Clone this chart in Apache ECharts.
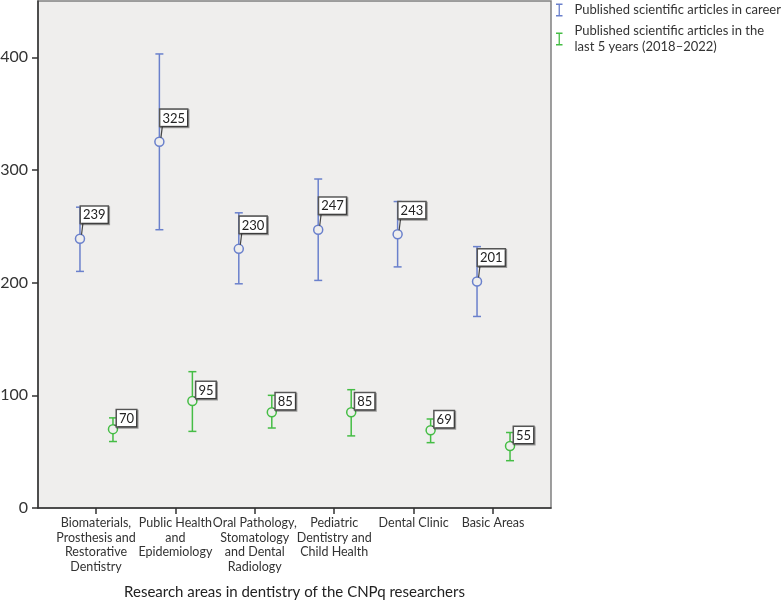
<!DOCTYPE html>
<html>
<head>
<meta charset="utf-8">
<script src="https://cdn.jsdelivr.net/npm/echarts@6.0.0/dist/echarts.min.js"></script>
<style>
  html, body { margin: 0; padding: 0; background: #fff; }
  #chart { width: 784px; height: 602px; }
</style>
</head>
<body>
<div id="chart"></div>
<script>
// Research areas (x axis)
const categories = [
    'Biomaterials,\nProsthesis and\nRestorative\nDentistry',
    'Public Health\nand\nEpidemiology',
    'Oral Pathology,\nStomatology\nand Dental\nRadiology',
    'Pediatric\nDentistry and\nChild Health',
    'Dental Clinic',
    'Basic Areas'
];

// Published scientific articles in career: mean and error bar limits
const careerMean = [239, 325, 230, 247, 243, 201];
const careerLow = [210, 247, 199, 202, 214, 170];
const careerHigh = [267, 403, 262, 292, 272, 232];

// Published scientific articles in the last 5 years
const recentMean = [70, 95, 85, 85, 69, 55];
const recentLow = [59, 68, 71, 64, 58, 42];
const recentHigh = [80, 121, 100, 105, 79, 67];

const yTicks = [0, 100, 200, 300, 400];
const xTicks = [0, 1, 2, 3, 4, 5];

const careerName = 'Published scientific articles in career';
const recentName = 'Published scientific articles in the last 5 years (2018–2022)';

const blue = '#6a80cc';
const green = '#45bd45';
const fontFamily = 'Lato, "DejaVu Sans", sans-serif';

function rows(mean, low, high) {
    return mean.map((m, i) => [i, m, low[i], high[i]]);
}

// Draws one error bar with its mean circle and boxed value label
function makeRenderer(color, dx, box) {
    return function(params, api) {
        const i = api.value(0);
        const p = api.coord([i, api.value(1)]);
        const x = p[0] + dx;
        const y = p[1];
        const lo = api.coord([i, api.value(2)])[1];
        const hi = api.coord([i, api.value(3)])[1];
        const lineStyle = { stroke: color, lineWidth: 1.5 };
        return {
            type: 'group',
            children: [
                { type: 'line', shape: { x1: x, y1: hi, x2: x, y2: lo }, style: lineStyle },
                { type: 'line', shape: { x1: x - 4, y1: hi, x2: x + 4, y2: hi }, style: lineStyle },
                { type: 'line', shape: { x1: x - 4, y1: lo, x2: x + 4, y2: lo }, style: lineStyle },
                { type: 'circle', shape: { cx: x, cy: y, r: 4.5 },
                  style: { fill: '#efeeed', stroke: color, lineWidth: 1.5 } },
                { type: 'line', shape: { x1: x + 1.5, y1: y - 4, x2: x + box[0] + 2, y2: y + box[1] },
                  style: { stroke: '#444', lineWidth: 1.2 } },
                { type: 'text', x: x + box[0], y: y + box[1],
                  style: {
                      text: String(api.value(1)),
                      font: '13px ' + fontFamily,
                      fill: '#222',
                      align: 'left',
                      verticalAlign: 'bottom',
                      backgroundColor: '#fff',
                      borderColor: '#555',
                      borderWidth: 1.5,
                      padding: [2, 2, 1, 2],
                      shadowColor: 'rgba(0,0,0,0.35)',
                      shadowOffsetX: 1,
                      shadowOffsetY: 1
                  } }
            ]
        };
    };
}

const chart = echarts.init(document.getElementById('chart'));

// error bar glyph, with a tiny dot on the right to widen the icon box
const barIcon = 'path://M0,0h7v1.5h-7z M2.8,1.5h1.4v11h-1.4z M0,12.5h7v1.5h-7z M13.9,13.9h0.1v0.1h-0.1z';

const option = {
    animation: false,
    textStyle: { fontFamily: fontFamily },
    grid: {
        left: 38,
        right: 233,
        top: 1,
        bottom: 94,
        outerBoundsMode: 'none',
        show: true,
        backgroundColor: '#efeeed',
        borderColor: '#808080',
        borderWidth: 1.5
    },
    legend: {
        orient: 'vertical',
        left: 556,
        top: 2,
        padding: 0,
        itemWidth: 14,
        itemHeight: 13,
        itemGap: 5,
        icon: barIcon,
        data: [careerName, recentName],
        formatter: function(name) {
            return name === recentName
                ? 'Published scientific articles in the\nlast 5 years (2018–2022)'
                : name;
        },
        textStyle: { fontSize: 13, lineHeight: 16, color: '#333', fontFamily: fontFamily }
    },
    xAxis: {
        type: 'value',
        min: -0.73,
        max: 5.73,
        name: 'Research areas in dentistry of the CNPq researchers',
        nameLocation: 'middle',
        nameGap: 77,
        nameMoveOverlap: false,
        nameTextStyle: { fontSize: 15, color: '#222', fontFamily: fontFamily },
        axisLine: { show: true, onZero: false, lineStyle: { color: '#333', width: 1.5 } },
        axisTick: { show: true, length: 6, customValues: xTicks, lineStyle: { color: '#333', width: 1.5 } },
        axisLabel: {
            customValues: xTicks,
            formatter: function(v) { return categories[Math.round(v)]; },
            fontSize: 12.5,
            lineHeight: 14.5,
            color: '#333',
            margin: 8,
            fontFamily: fontFamily
        },
        splitLine: { show: false }
    },
    yAxis: {
        type: 'value',
        min: 0,
        max: 450,
        axisLine: { show: true, onZero: false, lineStyle: { color: '#333', width: 1.5 } },
        axisTick: { show: true, length: 6, customValues: yTicks, lineStyle: { color: '#333', width: 1.5 } },
        axisLabel: {
            customValues: yTicks,
            fontSize: 16,
            color: '#333',
            margin: 10,
            fontFamily: fontFamily
        },
        splitLine: { show: false }
    },
    series: [
        {
            name: careerName,
            type: 'custom',
            itemStyle: { color: blue },
            encode: { x: 0, y: 1 },
            renderItem: makeRenderer(blue, -16, [1, -16]),
            data: rows(careerMean, careerLow, careerHigh)
        },
        {
            name: recentName,
            type: 'custom',
            itemStyle: { color: green },
            encode: { x: 0, y: 1 },
            renderItem: makeRenderer(green, 17, [4, -3]),
            data: rows(recentMean, recentLow, recentHigh)
        }
    ]
};

chart.setOption(option);
</script>
</body>
</html>
